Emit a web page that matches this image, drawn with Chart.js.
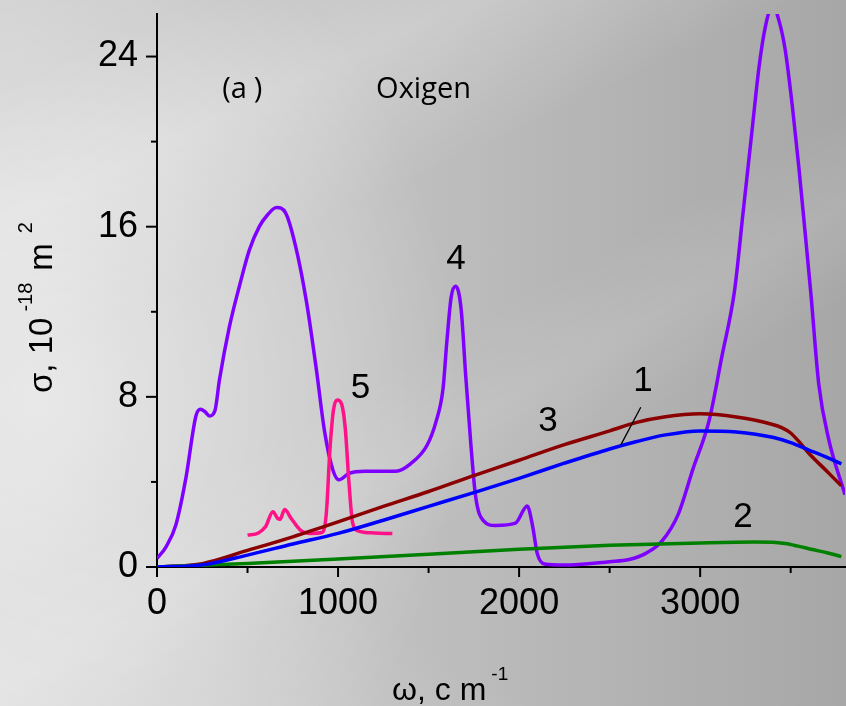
<!DOCTYPE html>
<html>
<head>
<meta charset="utf-8">
<script src="https://cdn.jsdelivr.net/npm/chart.js@4.4.1/dist/chart.umd.min.js"></script>
<style>
  html, body { margin: 0; padding: 0; }
  body {
    width: 846px; height: 706px; overflow: hidden;
    background:
      linear-gradient(155deg, rgba(255,255,255,0) 8%, rgba(255,255,255,0.22) 20%, rgba(255,255,255,0) 34%),
      linear-gradient(150deg, rgba(255,255,255,0) 50%, rgba(255,255,255,0.10) 58%, rgba(255,255,255,0) 66%),
      linear-gradient(28deg, rgba(255,255,255,0.20) 0%, rgba(255,255,255,0) 25%),
      radial-gradient(ellipse 420px 520px at 40px 400px, rgba(255,255,255,0.55) 0%, rgba(255,255,255,0) 100%),
      linear-gradient(to right, #cfcfcf 0%, #c3c3c3 40%, #b2b2b2 75%, #a7a7a7 100%);
  }
  canvas { display: block; }
</style>
</head>
<body>
<canvas id="grafico" width="846" height="706"></canvas>
<script>
// curva 1 (azul)
const curva1X = [0, 250, 500, 750, 1000, 1250, 1500, 1750, 2000, 2250, 2500, 2650, 2800, 3000, 3200, 3400, 3500, 3600, 3700, 3780];
const curva1Y = [0, 0.1, 0.56, 1.08, 1.58, 2.2, 2.85, 3.5, 4.17, 4.88, 5.55, 5.9, 6.2, 6.4, 6.35, 6.1, 5.85, 5.5, 5.15, 4.85];

// curva 2 (verde)
const curva2X = [0, 500, 1000, 1500, 2000, 2500, 3000, 3300, 3400, 3470, 3540, 3620, 3700, 3780];
const curva2Y = [0, 0.17, 0.38, 0.6, 0.83, 1.02, 1.13, 1.17, 1.16, 1.1, 0.98, 0.82, 0.67, 0.49];

// curva 3 (rojo oscuro)
const curva3X = [0, 250, 500, 750, 1000, 1250, 1500, 1750, 2000, 2250, 2500, 2650, 2800, 3000, 3200, 3400, 3450, 3500, 3540, 3600, 3700, 3780];
const curva3Y = [0, 0.16, 0.78, 1.42, 2.12, 2.85, 3.55, 4.3, 5.02, 5.75, 6.4, 6.8, 7.05, 7.2, 7.05, 6.7, 6.55, 6.3, 5.95, 5.35, 4.5, 3.82];

// curva 4 (violeta)
const curva4X = [0, 50, 105, 160, 215, 240, 265, 290, 320, 345, 400, 455, 510, 565, 610, 660, 710, 765, 825, 880, 925, 970, 1005, 1060, 1150, 1250, 1320, 1400, 1490, 1540, 1580, 1600, 1625, 1650, 1680, 1705, 1735, 1760, 1800, 1870, 1980, 2045, 2075, 2100, 2140, 2250, 2500, 2608, 2700, 2790, 2880, 2960, 3050, 3120, 3190, 3235, 3285, 3325, 3360, 3400, 3435, 3470, 3510, 3545, 3580, 3612, 3655, 3710, 3800];
const curva4Y = [0.4, 0.95, 2.0, 4.2, 7.1, 7.42, 7.3, 7.1, 7.35, 8.8, 11.3, 13.2, 14.9, 16.0, 16.55, 16.9, 16.65, 15.1, 12.5, 9.3, 6.4, 4.6, 4.1, 4.4, 4.5, 4.5, 4.5, 4.85, 5.7, 6.8, 8.4, 10.5, 12.7, 13.2, 12.1, 9.0, 5.6, 3.3, 2.2, 1.95, 2.06, 2.87, 1.9, 0.64, 0.14, 0.09, 0.25, 0.35, 0.64, 1.23, 2.5, 4.6, 6.9, 9.9, 13.0, 16.5, 20.4, 23.5, 25.4, 26.4, 25.7, 24.3, 21.6, 18.8, 15.7, 12.8, 8.6, 6.0, 3.4];

// curva 5 (rosa)
const curva5X = [500, 560, 600, 640, 665, 680, 705, 740, 790, 850, 910, 935, 955, 975, 995, 1020, 1040, 1060, 1080, 1110, 1200, 1300];
const curva5Y = [1.5, 1.6, 1.9, 2.6, 2.3, 2.25, 2.7, 2.3, 1.75, 1.58, 1.62, 2.5, 5.5, 7.4, 7.85, 7.65, 6.5, 4.0, 2.1, 1.7, 1.6, 1.57];

// etiquetas de las curvas
const etiquetas = ["4", "5", "3", "1", "2"];
const etiquetasX = [1652, 1124, 2160, 2684, 3236];
const etiquetasY = [14.45, 8.38, 6.87, 8.75, 2.35];

const ticksX = [0, 500, 1000, 1500, 2000, 2500, 3000, 3500];
const ticksY = [0, 4, 8, 12, 16, 20, 24];

const puntos = (xs, ys) => xs.map((x, i) => ({ x: x, y: ys[i] }));

const serie = (label, xs, ys, color) => ({
  label: label,
  data: puntos(xs, ys),
  borderColor: color,
  borderWidth: 3.5,
  pointRadius: 0,
  fill: false,
  cubicInterpolationMode: "monotone"
});

const datasets = [
  serie("1", curva1X, curva1Y, "#0000ff"),
  serie("2", curva2X, curva2Y, "#008000"),
  serie("3", curva3X, curva3Y, "#8b0000"),
  serie("5", curva5X, curva5Y, "#ff1188"),
  serie("4", curva4X, curva4Y, "#8000ff")
];

const fuente = "'Liberation Sans', Arial, sans-serif";

// marcas de los ejes, titulos y textos
const decoracion = {
  id: "decoracion",
  afterDraw(chart) {
    const ctx = chart.ctx;
    const sx = chart.scales.x;
    const sy = chart.scales.y;
    const area = chart.chartArea;
    ctx.save();
    ctx.strokeStyle = "#000";
    ctx.lineWidth = 2;
    ticksX.forEach(v => {
      const px = sx.getPixelForValue(v);
      const largo = v % 1000 === 0 ? 10 : 6;
      ctx.beginPath();
      ctx.moveTo(px, area.bottom);
      ctx.lineTo(px, area.bottom + largo);
      ctx.stroke();
    });
    ticksY.forEach(v => {
      const py = sy.getPixelForValue(v);
      const largo = v % 8 === 0 ? 11 : 6;
      ctx.beginPath();
      ctx.moveTo(area.left, py);
      ctx.lineTo(area.left - largo, py);
      ctx.stroke();
    });

    ctx.fillStyle = "#000";
    ctx.textBaseline = "middle";
    ctx.textAlign = "center";
    ctx.font = "35px " + fuente;
    etiquetas.forEach((t, i) => {
      ctx.fillText(t, sx.getPixelForValue(etiquetasX[i]), sy.getPixelForValue(etiquetasY[i]));
    });

    // linea guia de la etiqueta 1
    ctx.lineWidth = 1.3;
    ctx.beginPath();
    ctx.moveTo(sx.getPixelForValue(2672), sy.getPixelForValue(7.51));
    ctx.lineTo(sx.getPixelForValue(2562), sy.getPixelForValue(5.74));
    ctx.stroke();

    ctx.textAlign = "left";
    ctx.font = "29px 'Open Sans', sans-serif";
    const ax = sx.getPixelForValue(360), ay = sy.getPixelForValue(22.45);
    ctx.fillText("(a", ax, ay);
    ctx.fillText(")", ax + ctx.measureText("(a").width + 7, ay);
    ctx.font = "29px 'Open Sans', sans-serif";
    ctx.fillText("Oxigen", sx.getPixelForValue(1210), sy.getPixelForValue(22.45));

    // titulo eje x
    ctx.textBaseline = "alphabetic";
    let x = 392;
    ctx.font = "32px " + fuente;
    ctx.fillText("\u03c9, c m", x, 700);
    x += ctx.measureText("\u03c9, c m").width + 5;
    ctx.font = "19px " + fuente;
    ctx.fillText("-1", x, 680);

    // titulo eje y
    ctx.translate(52, 393);
    ctx.rotate(-Math.PI / 2);
    let y = 0;
    ctx.font = "33px " + fuente;
    ctx.fillText("\u03c3, 10", y, 0);
    y += ctx.measureText("\u03c3, 10").width + 6;
    ctx.font = "20px " + fuente;
    ctx.fillText("-18", y, -20);
    y += ctx.measureText("-18").width + 12;
    ctx.font = "33px " + fuente;
    ctx.fillText("m", y, 0);
    y += ctx.measureText("m").width + 10;
    ctx.font = "20px " + fuente;
    ctx.fillText("2", y, -20);
    ctx.restore();
  }
};

const config = {
  type: "line",
  data: { datasets },
  options: {
    responsive: false,
    animation: false,
    events: [],
    layout: { padding: { left: 0, top: 14, right: 1, bottom: 0 } },
    plugins: { legend: { display: false }, tooltip: { enabled: false } },
    scales: {
      x: {
        type: "linear",
        min: 0,
        max: 3800,
        afterBuildTicks: s => { s.ticks = ticksX.map(v => ({ value: v })); },
        afterFit: s => { s.height = 139; s.paddingLeft = 0; s.paddingRight = 0; },
        border: { display: true, color: "#000", width: 2 },
        grid: { display: true, drawOnChartArea: false, tickLength: 10, tickColor: "rgba(0,0,0,0)" },
        ticks: {
          autoSkip: false,
          maxRotation: 0,
          padding: 5,
          color: "#000",
          font: { family: fuente, size: 36 },
          callback: v => (Math.round(v) % 1000 === 0 ? String(Math.round(v)) : "")
        }
      },
      y: {
        type: "linear",
        min: 0,
        max: 26,
        afterBuildTicks: s => { s.ticks = ticksY.map(v => ({ value: v })); },
        afterFit: s => { s.width = 157; s.paddingTop = 0; s.paddingBottom = 0; },
        border: { display: true, color: "#000", width: 2 },
        grid: { display: true, drawOnChartArea: false, tickLength: 10, tickColor: "rgba(0,0,0,0)" },
        ticks: {
          autoSkip: false,
          padding: 9,
          color: "#000",
          font: { family: fuente, size: 36 },
          callback: v => (Math.round(v) % 8 === 0 ? String(Math.round(v)) : "")
        }
      }
    }
  },
  plugins: [decoracion]
};

const grafico = new Chart(document.getElementById("grafico"), config);
</script>
</body>
</html>
